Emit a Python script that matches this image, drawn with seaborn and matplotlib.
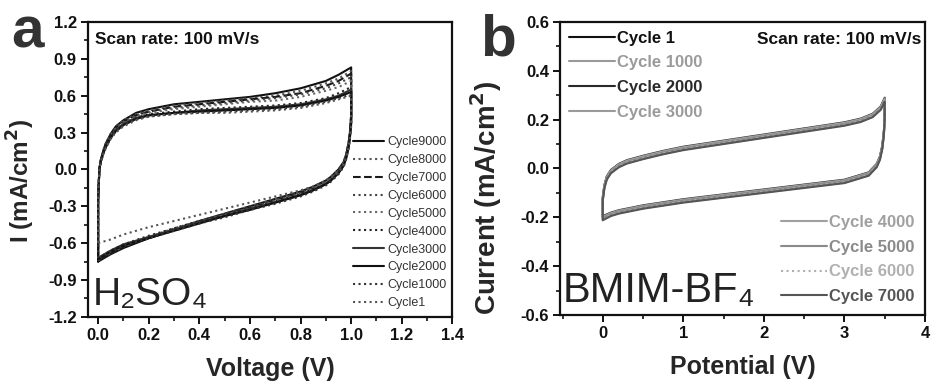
import matplotlib
matplotlib.use("Agg")
import matplotlib.pyplot as plt
from matplotlib.ticker import MultipleLocator, FormatStrFormatter
import seaborn as sns
import pandas as pd

# ---------------- Panel a data (H2SO4) ----------------
va_fwd = [0.0, 0.0, 0.005, 0.01, 0.02, 0.03, 0.05, 0.07, 0.1, 0.15, 0.2, 0.3, 0.4, 0.5, 0.6, 0.7, 0.8, 0.9, 0.95, 1.0]
va_rev = [1.0, 1.0, 0.995, 0.99, 0.98, 0.97, 0.95, 0.92, 0.9, 0.85, 0.8, 0.7, 0.6, 0.5, 0.4, 0.3, 0.2, 0.1, 0.05, 0.0]

cycles_a = ["Cycle9000", "Cycle8000", "Cycle7000", "Cycle6000", "Cycle5000",
            "Cycle4000", "Cycle3000", "Cycle2000", "Cycle1000", "Cycle1"]

ia_fwd = {
    "Cycle9000": [-0.75, -0.25, 0.0, 0.07, 0.15, 0.21, 0.29, 0.35, 0.40, 0.46, 0.49, 0.53, 0.55, 0.57, 0.59, 0.62, 0.66, 0.72, 0.77, 0.83],
    "Cycle8000": [-0.74, -0.25, 0.0, 0.07, 0.15, 0.21, 0.29, 0.35, 0.40, 0.45, 0.48, 0.52, 0.54, 0.56, 0.58, 0.60, 0.64, 0.70, 0.74, 0.80],
    "Cycle7000": [-0.74, -0.25, 0.0, 0.07, 0.14, 0.20, 0.28, 0.34, 0.39, 0.44, 0.47, 0.51, 0.53, 0.55, 0.57, 0.59, 0.62, 0.68, 0.72, 0.78],
    "Cycle6000": [-0.73, -0.25, 0.0, 0.07, 0.14, 0.20, 0.28, 0.34, 0.39, 0.44, 0.47, 0.50, 0.52, 0.54, 0.56, 0.58, 0.61, 0.66, 0.70, 0.75],
    "Cycle5000": [-0.73, -0.25, 0.0, 0.06, 0.14, 0.19, 0.27, 0.33, 0.38, 0.43, 0.46, 0.49, 0.51, 0.53, 0.55, 0.56, 0.59, 0.64, 0.67, 0.72],
    "Cycle4000": [-0.72, -0.25, 0.0, 0.06, 0.13, 0.19, 0.27, 0.32, 0.37, 0.42, 0.45, 0.47, 0.49, 0.50, 0.51, 0.52, 0.54, 0.58, 0.62, 0.67],
    "Cycle3000": [-0.72, -0.25, 0.0, 0.06, 0.13, 0.18, 0.26, 0.32, 0.37, 0.42, 0.44, 0.46, 0.48, 0.49, 0.50, 0.51, 0.53, 0.57, 0.60, 0.65],
    "Cycle2000": [-0.73, -0.25, 0.0, 0.06, 0.13, 0.18, 0.26, 0.31, 0.36, 0.41, 0.44, 0.46, 0.47, 0.48, 0.49, 0.50, 0.52, 0.56, 0.59, 0.63],
    "Cycle1000": [-0.72, -0.25, 0.0, 0.05, 0.12, 0.18, 0.25, 0.31, 0.36, 0.41, 0.43, 0.45, 0.46, 0.47, 0.48, 0.49, 0.51, 0.55, 0.58, 0.61],
    "Cycle1":    [-0.60, -0.20, 0.0, 0.05, 0.12, 0.17, 0.25, 0.30, 0.35, 0.40, 0.43, 0.45, 0.46, 0.46, 0.47, 0.48, 0.50, 0.54, 0.57, 0.60],
}
ia_rev = {
    "Cycle9000": [0.83, 0.45, 0.30, 0.22, 0.12, 0.06, 0.00, -0.06, -0.09, -0.14, -0.18, -0.24, -0.30, -0.36, -0.42, -0.49, -0.56, -0.64, -0.69, -0.75],
    "Cycle8000": [0.80, 0.44, 0.30, 0.22, 0.12, 0.06, 0.00, -0.06, -0.09, -0.14, -0.18, -0.24, -0.30, -0.36, -0.42, -0.48, -0.55, -0.63, -0.68, -0.74],
    "Cycle7000": [0.78, 0.43, 0.29, 0.21, 0.11, 0.05, -0.01, -0.07, -0.10, -0.15, -0.19, -0.25, -0.31, -0.37, -0.43, -0.49, -0.56, -0.63, -0.68, -0.74],
    "Cycle6000": [0.75, 0.42, 0.29, 0.21, 0.11, 0.05, -0.01, -0.07, -0.10, -0.15, -0.19, -0.25, -0.31, -0.37, -0.42, -0.48, -0.55, -0.62, -0.67, -0.73],
    "Cycle5000": [0.72, 0.41, 0.28, 0.20, 0.10, 0.04, -0.02, -0.08, -0.11, -0.16, -0.20, -0.26, -0.32, -0.37, -0.43, -0.49, -0.55, -0.62, -0.67, -0.73],
    "Cycle4000": [0.67, 0.39, 0.27, 0.19, 0.10, 0.04, -0.02, -0.08, -0.11, -0.16, -0.20, -0.26, -0.31, -0.37, -0.42, -0.48, -0.54, -0.61, -0.66, -0.72],
    "Cycle3000": [0.65, 0.38, 0.26, 0.18, 0.09, 0.03, -0.03, -0.09, -0.12, -0.17, -0.21, -0.27, -0.32, -0.38, -0.43, -0.49, -0.55, -0.61, -0.66, -0.72],
    "Cycle2000": [0.63, 0.37, 0.26, 0.18, 0.09, 0.03, -0.03, -0.09, -0.12, -0.17, -0.21, -0.27, -0.33, -0.38, -0.44, -0.50, -0.56, -0.62, -0.67, -0.73],
    "Cycle1000": [0.61, 0.36, 0.25, 0.17, 0.08, 0.02, -0.04, -0.10, -0.13, -0.18, -0.22, -0.28, -0.33, -0.39, -0.44, -0.50, -0.56, -0.62, -0.67, -0.72],
    "Cycle1":    [0.60, 0.35, 0.25, 0.18, 0.10, 0.04, -0.02, -0.07, -0.10, -0.14, -0.17, -0.22, -0.27, -0.32, -0.37, -0.42, -0.47, -0.53, -0.57, -0.60],
}

# ---------------- Panel b data (BMIM-BF4) ----------------
vb_fwd = [0.0, 0.0, 0.02, 0.05, 0.1, 0.2, 0.3, 0.5, 0.75, 1.0, 1.5, 2.0, 2.5, 3.0, 3.2, 3.35, 3.45, 3.5]
vb_rev = [3.5, 3.5, 3.49, 3.47, 3.44, 3.4, 3.3, 3.1, 3.0, 2.5, 2.0, 1.5, 1.0, 0.5, 0.2, 0.1, 0.0]

cycles_b = ["Cycle 1", "Cycle 1000", "Cycle 2000", "Cycle 3000",
            "Cycle 4000", "Cycle 5000", "Cycle 6000", "Cycle 7000"]

ib_fwd = {
    "Cycle 1":    [-0.200, -0.120, -0.070, -0.035, -0.010, 0.015, 0.030, 0.048, 0.068, 0.085, 0.110, 0.135, 0.160, 0.185, 0.200, 0.220, 0.250, 0.285],
    "Cycle 1000": [-0.205, -0.125, -0.075, -0.040, -0.015, 0.010, 0.025, 0.043, 0.063, 0.080, 0.105, 0.130, 0.155, 0.180, 0.195, 0.215, 0.245, 0.280],
    "Cycle 2000": [-0.195, -0.115, -0.068, -0.032, -0.006, 0.019, 0.034, 0.052, 0.072, 0.089, 0.114, 0.139, 0.164, 0.189, 0.204, 0.224, 0.254, 0.290],
    "Cycle 3000": [-0.210, -0.128, -0.078, -0.043, -0.018, 0.007, 0.022, 0.040, 0.060, 0.077, 0.102, 0.127, 0.152, 0.177, 0.192, 0.212, 0.242, 0.276],
    "Cycle 4000": [-0.198, -0.118, -0.069, -0.034, -0.008, 0.017, 0.032, 0.050, 0.070, 0.087, 0.112, 0.137, 0.162, 0.187, 0.202, 0.222, 0.252, 0.287],
    "Cycle 5000": [-0.202, -0.122, -0.072, -0.038, -0.012, 0.012, 0.027, 0.045, 0.065, 0.082, 0.107, 0.132, 0.157, 0.182, 0.197, 0.217, 0.247, 0.282],
    "Cycle 6000": [-0.207, -0.126, -0.076, -0.041, -0.016, 0.009, 0.024, 0.042, 0.062, 0.079, 0.104, 0.129, 0.154, 0.179, 0.194, 0.214, 0.244, 0.278],
    "Cycle 7000": [-0.212, -0.130, -0.080, -0.045, -0.020, 0.005, 0.020, 0.038, 0.058, 0.075, 0.100, 0.125, 0.150, 0.175, 0.190, 0.210, 0.240, 0.274],
}
ib_rev = {
    "Cycle 1":    [0.285, 0.220, 0.150, 0.090, 0.045, 0.015, -0.020, -0.040, -0.050, -0.070, -0.090, -0.110, -0.130, -0.155, -0.175, -0.185, -0.200],
    "Cycle 1000": [0.280, 0.215, 0.145, 0.085, 0.040, 0.010, -0.025, -0.045, -0.055, -0.075, -0.095, -0.115, -0.135, -0.160, -0.180, -0.190, -0.205],
    "Cycle 2000": [0.290, 0.225, 0.155, 0.094, 0.049, 0.019, -0.016, -0.036, -0.046, -0.066, -0.086, -0.106, -0.126, -0.151, -0.171, -0.181, -0.195],
    "Cycle 3000": [0.276, 0.212, 0.142, 0.082, 0.037, 0.007, -0.028, -0.048, -0.058, -0.078, -0.098, -0.118, -0.138, -0.163, -0.183, -0.193, -0.210],
    "Cycle 4000": [0.287, 0.222, 0.152, 0.092, 0.047, 0.017, -0.018, -0.038, -0.048, -0.068, -0.088, -0.108, -0.128, -0.153, -0.173, -0.183, -0.198],
    "Cycle 5000": [0.282, 0.217, 0.147, 0.087, 0.042, 0.012, -0.022, -0.042, -0.052, -0.072, -0.092, -0.112, -0.132, -0.157, -0.177, -0.187, -0.202],
    "Cycle 6000": [0.278, 0.214, 0.144, 0.084, 0.039, 0.009, -0.026, -0.046, -0.056, -0.076, -0.096, -0.116, -0.136, -0.161, -0.181, -0.191, -0.207],
    "Cycle 7000": [0.274, 0.210, 0.140, 0.080, 0.035, 0.005, -0.030, -0.050, -0.060, -0.080, -0.100, -0.120, -0.140, -0.165, -0.185, -0.195, -0.212],
}

# ---------------- styles ----------------
style_a = {
    "Cycle9000": ("#111111", "-"),
    "Cycle8000": ("#555555", ":"),
    "Cycle7000": ("#1a1a1a", "--"),
    "Cycle6000": ("#444444", ":"),
    "Cycle5000": ("#666666", ":"),
    "Cycle4000": ("#222222", ":"),
    "Cycle3000": ("#333333", "-"),
    "Cycle2000": ("#111111", "-"),
    "Cycle1000": ("#333333", ":"),
    "Cycle1":    ("#555555", ":"),
}
style_b = {
    "Cycle 1":    ("#111111", "-"),
    "Cycle 1000": ("#9a9a9a", "-"),
    "Cycle 2000": ("#2a2a2a", "-"),
    "Cycle 3000": ("#9a9a9a", "-"),
    "Cycle 4000": ("#a0a0a0", "-"),
    "Cycle 5000": ("#8a8a8a", "-"),
    "Cycle 6000": ("#b0b0b0", ":"),
    "Cycle 7000": ("#555555", "-"),
}

sns.set_theme(style="ticks")
plt.rcParams["font.family"] = ["Liberation Sans", "DejaVu Sans"]
plt.rcParams["font.weight"] = "bold"
plt.rcParams["axes.labelweight"] = "bold"

fig = plt.figure(figsize=(9.32, 3.85), dpi=100)
ax_a = fig.add_axes([0.0944, 0.177, 0.391, 0.766])
ax_b = fig.add_axes([0.601, 0.182, 0.3915, 0.761])


def draw(ax, cycles, vf, vr, ifwd, irev, styles):
    lines = {}
    for c in cycles:
        df = pd.DataFrame({"V": vf + vr, "I": ifwd[c] + irev[c]})
        col, ls = styles[c]
        sns.lineplot(data=df, x="V", y="I", sort=False, estimator=None,
                     color=col, linestyle=ls, linewidth=1.5, ax=ax, label=c)
        lines[c] = ax.get_lines()[-1]
    ax.get_legend().remove()
    return lines


def style_axes(ax):
    for s in ax.spines.values():
        s.set_linewidth(1.6)
        s.set_color("#111111")
    ax.tick_params(axis="both", which="major", direction="out", length=5, width=1.4,
                   labelsize=12, colors="#111111", pad=3)
    ax.tick_params(axis="both", which="minor", direction="out", length=3, width=1.2,
                   colors="#111111")
    for lab in ax.get_xticklabels() + ax.get_yticklabels():
        lab.set_fontweight("bold")


# Panel a
lines_a = draw(ax_a, cycles_a, va_fwd, va_rev, ia_fwd, ia_rev, style_a)
ax_a.set_xlim(-0.04, 1.4)
ax_a.set_ylim(-1.2, 1.2)
ax_a.xaxis.set_major_locator(MultipleLocator(0.2))
ax_a.xaxis.set_minor_locator(MultipleLocator(0.1))
ax_a.yaxis.set_major_locator(MultipleLocator(0.3))
ax_a.yaxis.set_minor_locator(MultipleLocator(0.15))
ax_a.xaxis.set_major_formatter(FormatStrFormatter("%.1f"))
ax_a.yaxis.set_major_formatter(FormatStrFormatter("%.1f"))
style_axes(ax_a)
ax_a.set_xlabel("Voltage (V)", fontsize=18, fontweight="bold", labelpad=10)
ax_a.set_ylabel("I (mA/cm$^\\mathbf{2}$)", fontsize=17.5, fontweight="bold")
ax_a.yaxis.set_label_coords(-0.14, 0.46)
ax_a.text(0.02, 0.965, "Scan rate: 100 mV/s", transform=ax_a.transAxes, fontsize=12.5,
          fontweight="bold", va="top", ha="left", color="#111111")
ax_a.text(0.012, 0.012, "H₂SO₄", transform=ax_a.transAxes, fontsize=28,
          fontweight="normal", va="bottom", ha="left", color="#222222",
          family=["Liberation Sans", "DejaVu Sans"])
leg_a = ax_a.legend([lines_a[c] for c in cycles_a], cycles_a, loc="lower right",
                    bbox_to_anchor=(1.0, 0.005), frameon=False, fontsize=9,
                    handlelength=2.5, handletextpad=0.25, labelspacing=0.47,
                    borderaxespad=0.1)
for t in leg_a.get_texts():
    t.set_color("#333333")
    t.set_fontweight("normal")
fig.text(0.029, 1 - 47 / 385, "a", fontsize=42, fontweight="bold", color="#333333",
         va="baseline", ha="center")

# Panel b
lines_b = draw(ax_b, cycles_b, vb_fwd, vb_rev, ib_fwd, ib_rev, style_b)
ax_b.set_xlim(-0.53, 4.0)
ax_b.set_ylim(-0.6, 0.6)
ax_b.xaxis.set_major_locator(MultipleLocator(1))
ax_b.xaxis.set_minor_locator(MultipleLocator(0.5))
ax_b.yaxis.set_major_locator(MultipleLocator(0.2))
ax_b.yaxis.set_minor_locator(MultipleLocator(0.1))
ax_b.yaxis.set_major_formatter(FormatStrFormatter("%.1f"))
style_axes(ax_b)
ax_b.set_xlabel("Potential (V)", fontsize=18, fontweight="bold", labelpad=10)
ax_b.set_ylabel("Current (mA/cm$^\\mathbf{2}$)", fontsize=20, fontweight="bold")
ax_b.yaxis.set_label_coords(-0.155, 0.40)
ax_b.text(0.99, 0.965, "Scan rate: 100 mV/s", transform=ax_b.transAxes, fontsize=12.5,
          fontweight="bold", va="top", ha="right", color="#111111")
ax_b.text(0.008, 0.012, "BMIM-BF₄", transform=ax_b.transAxes, fontsize=30,
          fontweight="normal", va="bottom", ha="left", color="#222222",
          family=["Liberation Sans", "DejaVu Sans"])

first = cycles_b[:4]
second = cycles_b[4:]
leg_b1 = ax_b.legend([lines_b[c] for c in first], first, loc="upper left",
                     bbox_to_anchor=(0.0, 1.0), frameon=False, fontsize=12,
                     handlelength=2.75, handletextpad=0.12, labelspacing=0.58,
                     borderaxespad=0.12)
for t, c in zip(leg_b1.get_texts(), first):
    t.set_color(style_b[c][0])
    t.set_fontweight("bold")
ax_b.add_artist(leg_b1)
leg_b2 = ax_b.legend([lines_b[c] for c in second], second, loc="lower right",
                     bbox_to_anchor=(1.0, 0.0), frameon=False, fontsize=12,
                     handlelength=2.75, handletextpad=0.12, labelspacing=0.58,
                     borderaxespad=0.25)
for t, c in zip(leg_b2.get_texts(), second):
    t.set_color(style_b[c][0])
    t.set_fontweight("bold")
fig.text(0.534, 1 - 55 / 385, "b", fontsize=42, fontweight="bold", color="#333333",
         va="baseline", ha="center")

fig.savefig("out.png", dpi=100)
